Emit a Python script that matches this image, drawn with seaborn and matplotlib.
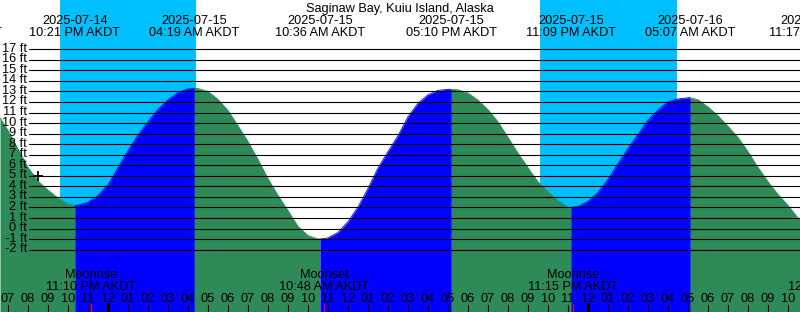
import numpy as np
import pandas as pd
import matplotlib
matplotlib.use("Agg")
import matplotlib.pyplot as plt
import matplotlib.dates as mdates
import matplotlib.transforms as mtransforms
import seaborn as sns

# ---------------- data ----------------
title = "Saginaw Bay, Kuiu Island, Alaska"

extreme_times = ["2025-07-14 16:26", "2025-07-14 22:21", "2025-07-15 04:19",
                 "2025-07-15 10:36", "2025-07-15 17:10", "2025-07-15 23:09",
                 "2025-07-16 05:07", "2025-07-16 11:17"]
extreme_heights = [13.6, 2.2, 13.3, -1.0, 13.2, 2.0, 12.4, 0.4]

# tide height read every half hour, starting 2025-07-14 19:00
reading_start = "2025-07-14 19:00"
halfhour_heights = [
    9.3, 7.55, 5.8, 4.5, 3.65, 2.9, 2.32, 2.22, 2.49, 3.13,            # 07-14 19:00-23:30
    4.15, 5.77, 7.38, 8.86, 10.12, 11.3, 12.2, 12.9, 13.24, 13.28,     # 07-15 00:00-04:30
    13.0, 12.25, 11.2, 9.75, 8.25, 6.55, 4.73, 3.15, 1.7, 0.2,         # 05:00-09:30
    -0.66, -0.99, -0.88, -0.37, 0.65, 2.05, 3.8, 5.75, 7.3, 8.8,       # 10:00-14:30
    10.6, 11.88, 12.68, 13.1, 13.2, 13.16, 12.85, 12.18, 11.27, 10.12, # 15:00-19:30
    8.64, 7.15, 5.77, 4.42, 3.48, 2.62, 2.03, 2.1,                     # 20:00-23:30
    2.56, 3.43, 4.65, 6.15, 7.57, 8.92, 10.27, 11.23, 12.03, 12.29,    # 07-16 00:00-04:30
    12.4, 12.22, 11.53, 10.7, 9.7, 8.64, 7.3, 5.8, 4.44, 3.24,         # 05:00-09:30
    2.2, 1.0,                                                          # 10:00-10:30
]
# heights read at the left and right edges of the chart
edge_times = ["2025-07-14 18:36", "2025-07-16 10:36"]
edge_heights = [10.5, 0.8]

night_starts = ["2025-07-14 21:35", "2025-07-15 21:35"]
night_ends = ["2025-07-15 04:23", "2025-07-16 04:26"]

moon_events = ["Moonrise", "Moonset", "Moonrise", "Moonset"]
moon_times = ["2025-07-14 23:10", "2025-07-15 10:48", "2025-07-15 23:15", "2025-07-16 12:17"]

now_time = "2025-07-14 20:29"
now_height = 5.0

level_ticks = list(range(-2, 18))

# ---------------- figure ----------------
W, H = 800, 312
sns.set_theme(style="white")
plt.rcParams["font.family"] = ["Liberation Sans", "DejaVu Sans"]
FS = 9.2

fig = plt.figure(figsize=(W / 100, H / 100), dpi=100)
ax = fig.add_axes([0, 0, 1, 1])
ax.set_facecolor("#87CEEB")

t0 = pd.Timestamp(edge_times[0])
t1 = pd.Timestamp(edge_times[1])
ax.set_xlim(mdates.date2num(t0), mdates.date2num(t1))
ylo, yhi = -7.91, 21.67
ax.set_ylim(ylo, yhi)

def dn(s):
    return mdates.date2num(pd.Timestamp(s))

# night bands
for a, b in zip(night_starts, night_ends):
    ax.axvspan(dn(a), dn(b), color="#00BFFF", lw=0, zorder=0)

# build tide curve
ext = pd.DataFrame({"time": pd.to_datetime(extreme_times), "height": extreme_heights})
readings = pd.DataFrame({"time": pd.date_range(reading_start, periods=len(halfhour_heights), freq="30min"),
                         "height": halfhour_heights})
edges = pd.DataFrame({"time": pd.to_datetime(edge_times), "height": edge_heights})
ext_in = ext[(ext.time > t0) & (ext.time < t1)]
curve = pd.concat([readings, edges, ext_in]).sort_values("time").drop_duplicates("time")
curve = curve[(curve.time >= t0) & (curve.time <= t1)].reset_index(drop=True)
curve["x"] = mdates.date2num(curve["time"])

bounds = [t0] + list(ext_in.time) + [t1]
parts = []
for i, (a, b) in enumerate(zip(bounds[:-1], bounds[1:])):
    seg = curve[(curve.time >= a) & (curve.time <= b)].copy()
    phase = "rising" if seg.height.iloc[-1] > seg.height.iloc[0] else "falling"
    seg["phase"] = phase
    seg["seg"] = i
    parts.append(seg)
    ax.fill_between(seg.x, seg.height, ylo, color="#0000FF" if phase == "rising" else "#2E8B57",
                    lw=0, zorder=1)
curve_seg = pd.concat(parts)
sns.lineplot(data=curve_seg, x="x", y="height", hue="phase", units="seg", estimator=None,
             palette={"rising": "#0000FF", "falling": "#2E8B57"}, lw=0.6, legend=False,
             ax=ax, zorder=2, sort=False)

def px_down(p):
    return mtransforms.ScaledTranslation(0, -p / 100, fig.dpi_scale_trans)

# level lines and labels
ytr = ax.get_yaxis_transform() + px_down(2.5)
for lv in level_ticks:
    ax.axhline(lv, xmin=29.3 / W, xmax=1, color="black", lw=0.8, zorder=3)
    ax.text(26.8 / W, lv, f"{lv} ft", transform=ytr,
            ha="right", va="baseline", fontsize=FS, color="black", zorder=4)

# current time marker
ax.plot([dn(now_time)], [now_height], marker="+", color="black", ms=7, mew=1.3, zorder=5)

# title and extreme labels (baselines in pixels from top)
ax.text(0.5, 1 - 11.7 / H, title, transform=ax.transAxes, ha="center", va="baseline",
        fontsize=FS, color="black")
xt = ax.get_xaxis_transform()
for t in ext.time:
    x = mdates.date2num(t)
    ax.text(x, 1 - 23.6 / H, t.strftime("%Y-%m-%d"), transform=xt, ha="center", va="baseline",
            fontsize=FS, color="black", clip_on=False)
    ax.text(x, 1 - 35.8 / H, t.strftime("%I:%M %p") + " AKDT", transform=xt, ha="center",
            va="baseline", fontsize=FS, color="black", clip_on=False)

# moon labels
for name, s in zip(moon_events, moon_times):
    t = pd.Timestamp(s)
    x = mdates.date2num(t)
    ax.text(x, 1 - 278.3 / H, name, transform=xt, ha="center", va="baseline", fontsize=FS,
            color="black")
    ax.text(x, 1 - 290 / H, t.strftime("%I:%M %p") + " AKDT", transform=xt, ha="center",
            va="baseline", fontsize=FS, color="black")
    if t0 <= t <= t1:
        ax.axvline(x, ymin=0, ymax=8 / H, color="red", lw=0.8, zorder=6)

# hour ticks and labels
hours = pd.date_range(t0.ceil("h"), t1.floor("h"), freq="h")
for t in hours:
    x = mdates.date2num(t)
    ax.text(x, 1 - 301.7 / H, t.strftime("%I"), transform=xt, ha="center", va="baseline",
            fontsize=FS, color="black")
    if t.hour == 0:
        ax.axvline(x, ymin=0, ymax=8 / H, color="black", lw=2.2, zorder=5)
    else:
        ax.axvline(x, ymin=0, ymax=7 / H, color="black", lw=0.8, zorder=5)

ax.set_axis_off()
fig.savefig("out.png", dpi=100)
